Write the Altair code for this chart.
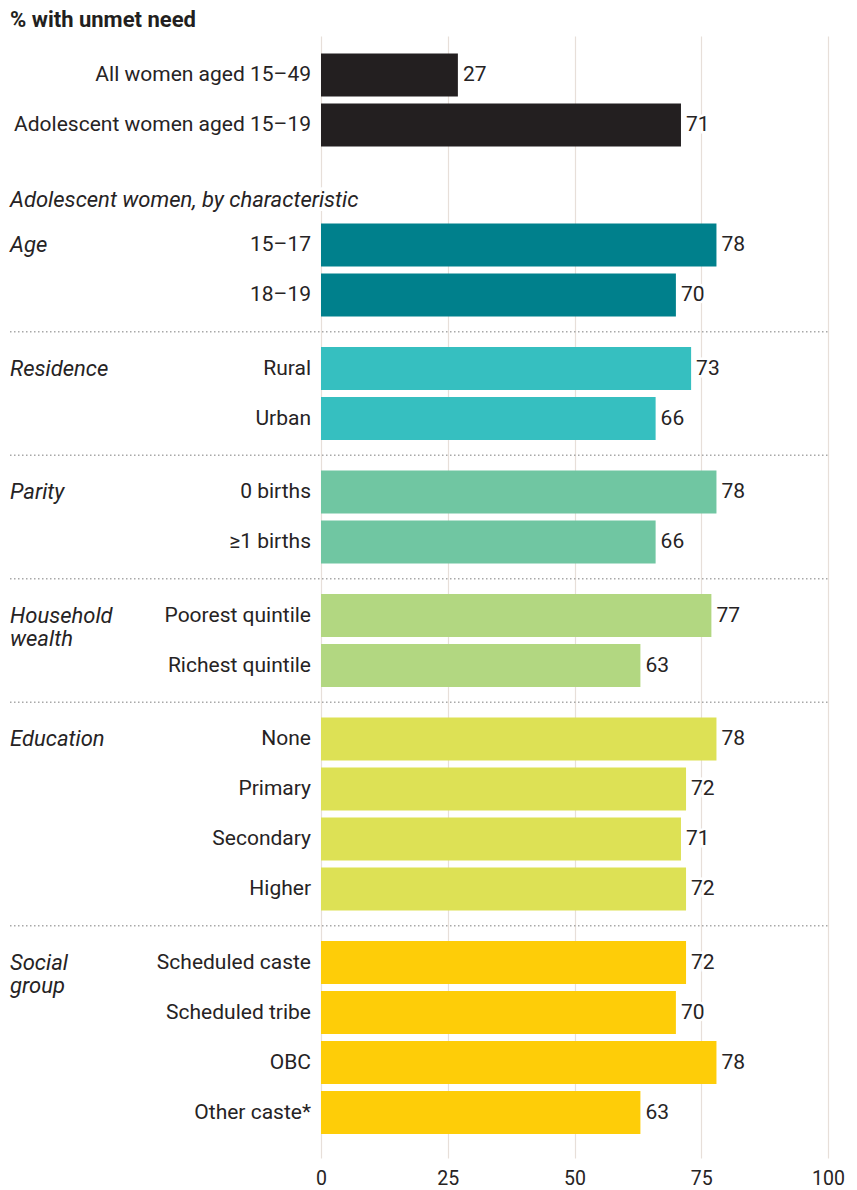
import altair as alt
import pandas as pd

title_text = "% with unmet need"
heading_text = "Adolescent women, by characteristic"

groups = ["", "Age", "Residence", "Parity", "Household\nwealth", "Education", "Social\ngroup"]
group_colors = ["#231f20", "#00808c", "#36bfc0", "#70c6a2", "#b2d781", "#dde155", "#fecd08"]
group_sizes = [2, 2, 2, 2, 2, 4, 4]

categories = [
    "All women aged 15–49", "Adolescent women aged 15–19",
    "15–17", "18–19",
    "Rural", "Urban",
    "0 births", "≥1 births",
    "Poorest quintile", "Richest quintile",
    "None", "Primary", "Secondary", "Higher",
    "Scheduled caste", "Scheduled tribe", "OBC", "Other caste*",
]
values = [27, 71, 78, 70, 73, 66, 78, 66, 77, 63, 78, 72, 71, 72, 72, 70, 78, 63]
x_ticks = [0, 25, 50, 75, 100]

FONT = "Roboto"
TEXT_COLOR = "#262324"
W, H = 507, 1122
ROW = 50
FIRST = 39
GAPS = [0, 70, 23.5, 23.5, 23.5, 23.5, 23.5]

# build layout rows from the group structure
rows, seps, glabels = [], [], []
cur = FIRST
k = 0
for gi, n in enumerate(group_sizes):
    if gi > 0:
        prev = cur
        cur = cur + ROW + GAPS[gi]
        if gi >= 2:
            seps.append({"sep": (prev + cur) / 2})
    for j in range(n):
        if j > 0:
            cur += ROW
        rows.append({"cat": categories[k], "value": values[k], "pos": cur,
                     "group": groups[gi] if groups[gi] else "top", "gi": gi})
        if j == 0 and groups[gi]:
            glabels.append({"glabel": groups[gi], "pos": cur})
        k += 1

df = pd.DataFrame(rows)
sep_df = pd.DataFrame(seps)
gl_df = pd.DataFrame(glabels)

color_scale = alt.Scale(domain=["top"] + groups[1:], range=group_colors)
yscale = alt.Scale(domain=[0, H], reverse=True, nice=False, zero=False, padding=0)
xscale = alt.Scale(domain=[0, 100], nice=False)

x_axis = alt.Axis(values=x_ticks, grid=True, gridColor="#e7dfd9", gridWidth=1.2,
                  domain=False, ticks=False, labelFontSize=19.5, labelFont=FONT,
                  labelColor=TEXT_COLOR, labelPadding=11, labelFlush=False, title=None)
x_enc = alt.X("value:Q", scale=xscale, axis=x_axis)
y_enc = alt.Y("pos:Q", scale=yscale, axis=None)

base = alt.Chart(df)

bars = base.mark_bar(orient="horizontal", size=43).encode(
    x=x_enc,
    x2=alt.datum(0),
    y=y_enc,
    color=alt.Color("group:N", scale=color_scale, legend=None),
)

value_halo = base.mark_text(align="left", baseline="middle", dx=5, font=FONT, fontSize=21,
                            stroke="white", strokeWidth=5, color="white").encode(
    x=x_enc, y=y_enc, text="value:Q")
value_text = base.mark_text(align="left", baseline="middle", dx=5, font=FONT, fontSize=21,
                            color=TEXT_COLOR).encode(
    x=x_enc, y=y_enc, text="value:Q")

cat_text = base.mark_text(align="right", baseline="middle", font=FONT, fontSize=21,
                          color=TEXT_COLOR).encode(
    x=alt.value(-10), y=y_enc, text="cat:N")

grp_text = alt.Chart(gl_df).mark_text(align="left", baseline="alphabetic", dy=7, font=FONT,
                                      fontSize=22, fontStyle="italic", lineHeight=23,
                                      lineBreak="\n", color=TEXT_COLOR).encode(
    x=alt.value(-311), y=alt.Y("pos:Q", scale=yscale, axis=None), text="glabel:N")

sep_rules = alt.Chart(sep_df).mark_rule(color="#a8a8a8", strokeDash=[1.5, 2.5], strokeWidth=1.5).encode(
    x=alt.value(-311), x2=alt.value(W), y=alt.Y("sep:Q", scale=yscale, axis=None))

heading_df = pd.DataFrame({"t": [heading_text]})
heading_bg = alt.Chart(heading_df).mark_text(
    align="left", baseline="middle", font=FONT, fontSize=22, fontStyle="italic",
    stroke="white", strokeWidth=8, color="white").encode(
    x=alt.value(-311), y=alt.value(164), text="t:N")
heading = alt.Chart(heading_df).mark_text(
    align="left", baseline="middle", font=FONT, fontSize=22, fontStyle="italic",
    color=TEXT_COLOR).encode(
    x=alt.value(-311), y=alt.value(164), text="t:N")

title = alt.Chart(pd.DataFrame({"t": [title_text]})).mark_text(
    align="left", baseline="middle", font=FONT, fontSize=22, fontWeight="bold",
    color="#231f20").encode(
    x=alt.value(-311), y=alt.value(-16), text="t:N")

chart = alt.layer(
    bars, sep_rules, heading_bg, heading, value_halo, value_text, cat_text, grp_text, title
).properties(
    width=W, height=H,
    autosize=alt.AutoSizeParams(type="none"),
    padding={"left": 321, "top": 36, "right": 29, "bottom": 32},
    background="white",
).configure_view(stroke=None)

chart.save("out.html", embed_options={"renderer": "svg", "actions": False})
